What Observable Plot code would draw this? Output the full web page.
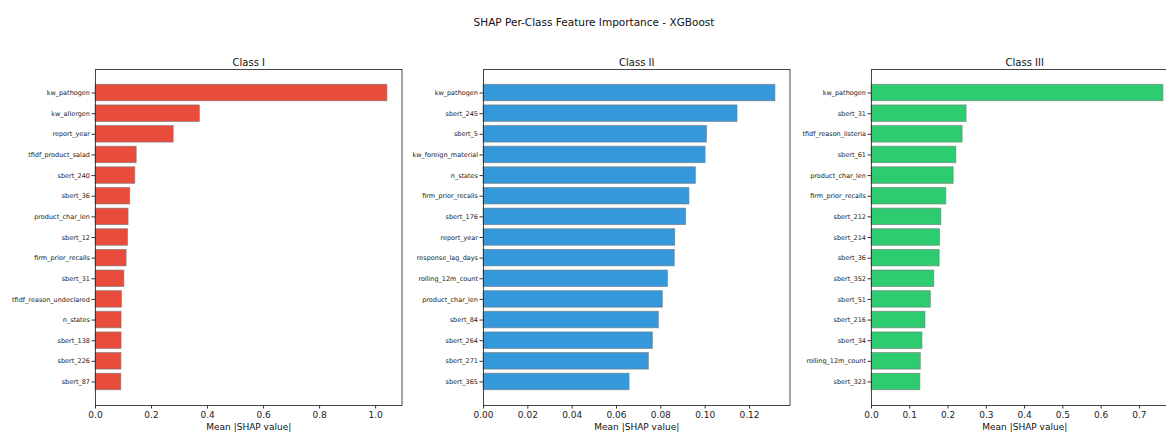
<!DOCTYPE html>
<html>
<head>
<meta charset="utf-8">
<script src="https://cdn.jsdelivr.net/npm/d3@7"></script>
<script src="https://cdn.jsdelivr.net/npm/@observablehq/plot@0.6"></script>
<style>
  html, body { margin: 0; padding: 0; background: #fff; }
  #wrap { position: relative; width: 1166px; height: 432px; overflow: hidden; background: #fff; font-family: "DejaVu Sans", sans-serif; }
  #title { position: absolute; top: 16px; left: 0; width: 1188px; text-align: center; font-size: 10.5px; color: #111; }
  .panel { position: absolute; top: 0; }
</style>
</head>
<body>
<div id="wrap"><div id="title">SHAP Per-Class Feature Importance - XGBoost</div></div>
<script>
const figureTitle = "SHAP Per-Class Feature Importance - XGBoost";
const xAxisLabel = "Mean |SHAP value|";

const classNames = ["Class I", "Class II", "Class III"];
const classColors = ["#e74c3c", "#3498db", "#2ecc71"];

const class1Features = ["kw_pathogen", "kw_allergen", "report_year", "tfidf_product_salad", "sbert_240", "sbert_36", "product_char_len", "sbert_12", "firm_prior_recalls", "sbert_31", "tfidf_reason_undeclared", "n_states", "sbert_138", "sbert_226", "sbert_87"];
const class1Values = [1.042, 0.3725, 0.279, 0.147, 0.142, 0.124, 0.118, 0.116, 0.111, 0.103, 0.0945, 0.093, 0.093, 0.0925, 0.092];

const class2Features = ["kw_pathogen", "sbert_245", "sbert_5", "kw_foreign_material", "n_states", "firm_prior_recalls", "sbert_176", "report_year", "response_lag_days", "rolling_12m_count", "product_char_len", "sbert_84", "sbert_264", "sbert_271", "sbert_365"];
const class2Values = [0.1317, 0.1146, 0.1008, 0.1002, 0.0958, 0.0929, 0.0914, 0.0865, 0.0863, 0.0832, 0.0809, 0.0791, 0.0764, 0.0746, 0.0659];

const class3Features = ["kw_pathogen", "sbert_31", "tfidf_reason_listeria", "sbert_61", "product_char_len", "firm_prior_recalls", "sbert_212", "sbert_214", "sbert_36", "sbert_352", "sbert_51", "sbert_216", "sbert_34", "rolling_12m_count", "sbert_323"];
const class3Values = [0.7627, 0.2485, 0.238, 0.2216, 0.2146, 0.1955, 0.1825, 0.179, 0.178, 0.164, 0.155, 0.141, 0.133, 0.1288, 0.1277];

const class1Ticks = [0, 0.2, 0.4, 0.6, 0.8, 1.0];
const class2Ticks = [0, 0.02, 0.04, 0.06, 0.08, 0.10, 0.12];
const class3Ticks = [0, 0.1, 0.2, 0.3, 0.4, 0.5, 0.6, 0.7];
const tickFormats = [".1f", ".2f", ".1f"];

const panels = [
  {features: class1Features, values: class1Values, ticks: class1Ticks},
  {features: class2Features, values: class2Values, ticks: class2Ticks},
  {features: class3Features, values: class3Values, ticks: class3Ticks}
];
const axesLefts = [94.5, 483.3, 871.3];

const wrap = document.getElementById("wrap");
const mL = 110, mT = 69, mB = 27, mR = 12, plotW = 306.5, plotH = 336;

panels.forEach((p, i) => {
  const data = p.features.map((f, j) => ({feature: f, value: p.values[j]}));
  const xmax = d3.max(p.values) * 1.05;
  const chart = Plot.plot({
    width: mL + plotW + mR,
    height: mT + plotH + mB,
    marginLeft: mL, marginRight: mR, marginTop: mT, marginBottom: mB,
    style: {fontFamily: "DejaVu Sans, sans-serif", color: "#222", background: "transparent", overflow: "visible"},
    x: {domain: [0, xmax]},
    y: {domain: p.features, paddingInner: 0.2, paddingOuter: 0.74, align: 0.5, round: false},
    marks: [
      Plot.barX(data, {x: "value", y: "feature", fill: classColors[i], stroke: "#777", strokeWidth: 0.8, strokeOpacity: 0.75}),
      Plot.frame({stroke: "#333", strokeWidth: 0.9}),
      Plot.axisX({ticks: p.ticks, tickFormat: d3.format(tickFormats[i]), label: null, tickSize: 3.5, tickPadding: 3, fontSize: 9, stroke: "#333"}),
      Plot.axisY({label: null, tickSize: 3.5, tickPadding: 2, fontSize: 6.5, stroke: "#333"}),
      Plot.text([classNames[i]], {text: d => d, frameAnchor: "top", dy: -11, fontSize: 10, fill: "#111"}),
      Plot.text([xAxisLabel], {text: d => d, frameAnchor: "bottom", dy: 24, fontSize: 9, fill: "#111"})
    ]
  });
  chart.classList.add("panel");
  chart.style.left = (axesLefts[i] - mL) + "px";
  wrap.appendChild(chart);
});
</script>
</body>
</html>
